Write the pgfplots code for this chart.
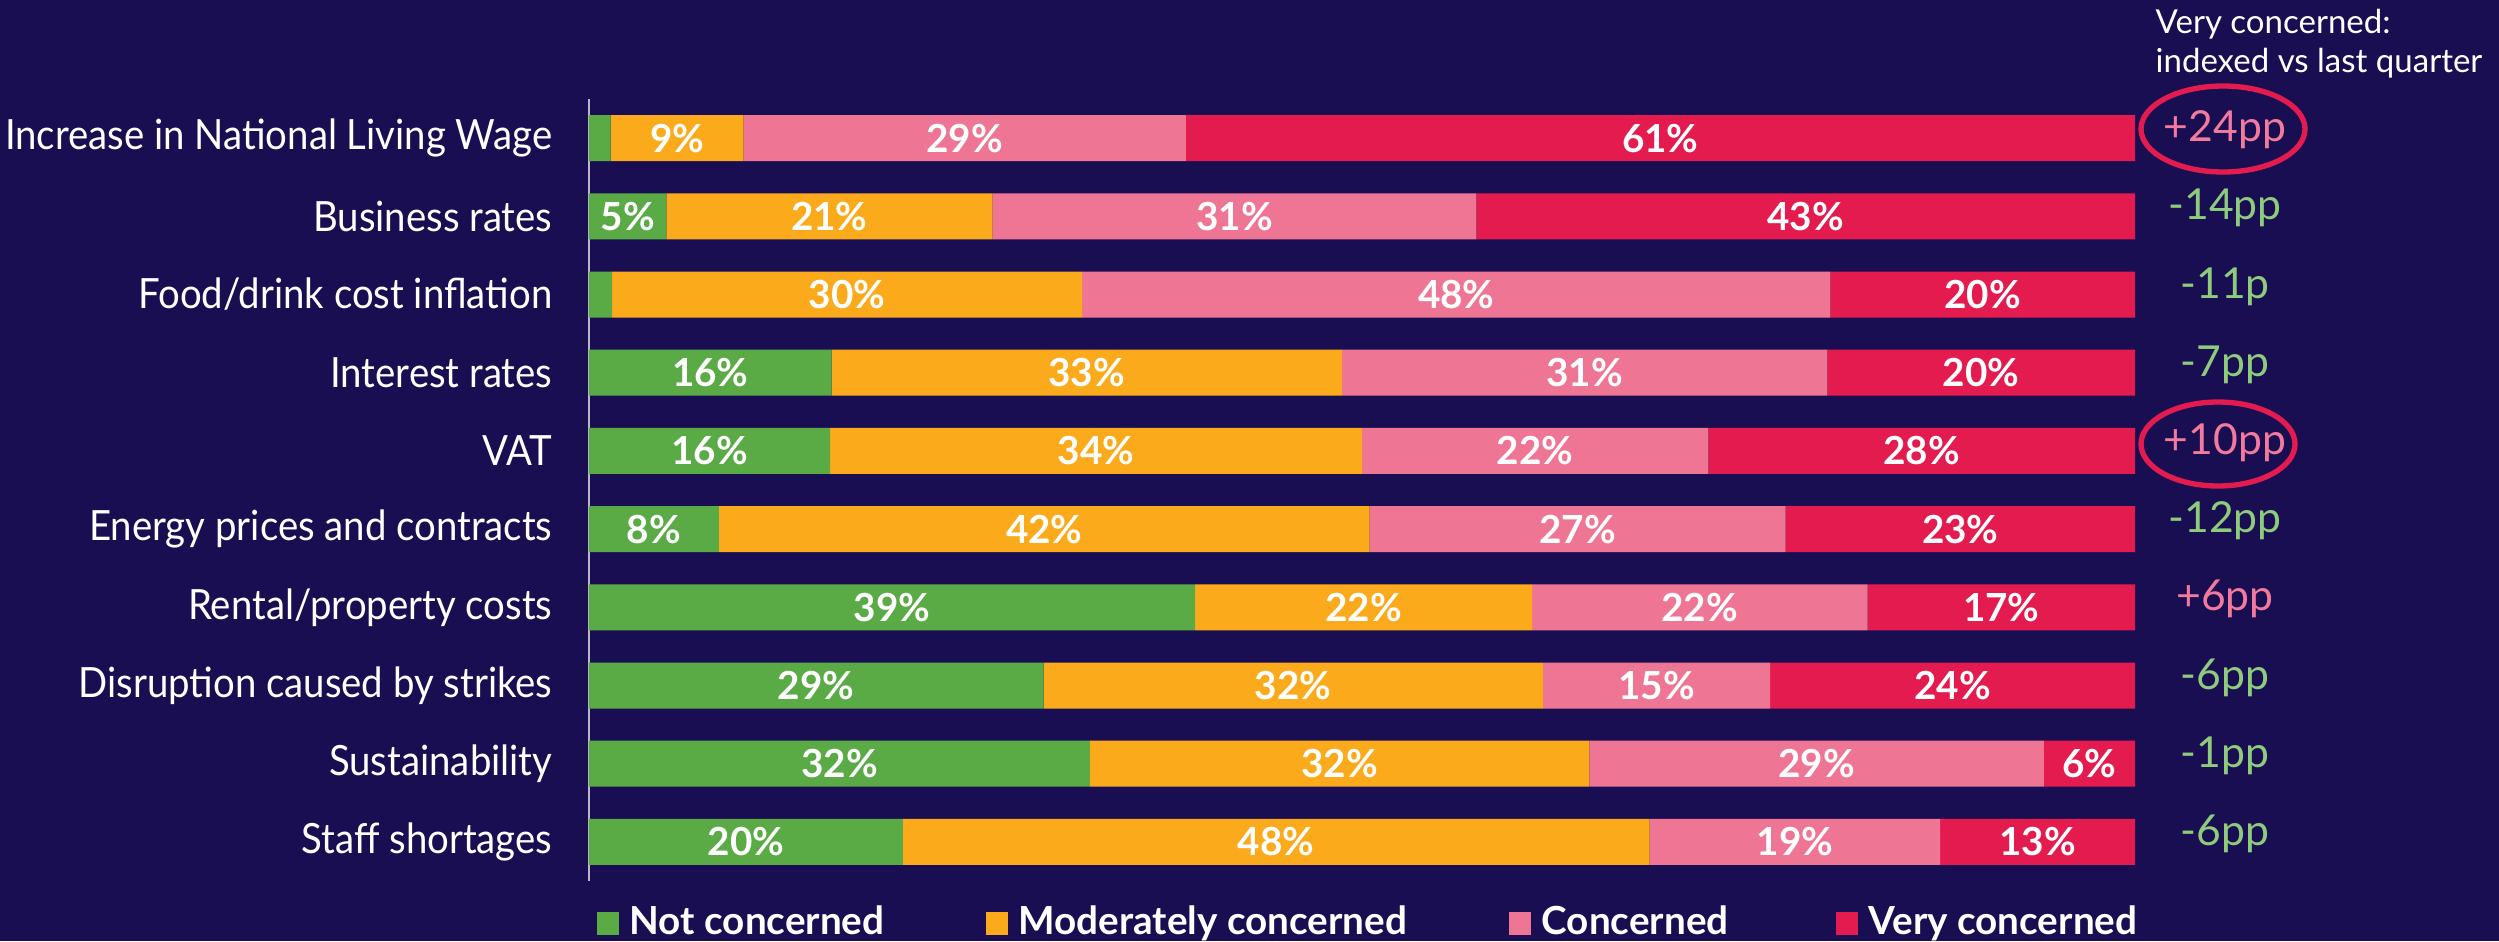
\documentclass[border=0pt]{standalone}
\usepackage{pgfplots}
\pgfplotsset{compat=1.18}
\usepackage{pgfplotstable}
\usepackage{fontspec}
\setmainfont{Lato}
\newfontfamily\labfont[FakeStretch=0.92]{Lato}
\definecolor{bg}{HTML}{1A0E52}
\definecolor{cgreen}{HTML}{5AAA46}
\definecolor{corange}{HTML}{FBAA1C}
\definecolor{cpink}{HTML}{EF7595}
\definecolor{cred}{HTML}{E31B4F}
\definecolor{agreen}{HTML}{8FCB7C}
\definecolor{apink}{HTML}{F27A9C}

\pgfplotstableread[col sep=comma]{
row,nc,mc,c,vc
0,1.4,8.6,28.6,61.4
1,5,21.1,31.3,42.6
2,1.5,30.4,48.4,19.7
3,15.7,33,31.4,19.9
4,15.6,34.4,22.4,27.6
5,8.4,42.1,26.9,22.6
6,39.2,21.8,21.7,17.3
7,29.4,32.3,14.7,23.6
8,32.4,32.3,29.4,5.9
9,20.3,48.3,18.8,12.6
}\datatable

\pgfplotsset{
  lbl/.style={
    visualization depends on={rawx \as \myv},
    nodes near coords={\pgfmathtruncatemacro\flag{\myv>=3}\ifnum\flag=1 \pgfmathprintnumber[fixed,precision=0]{\myv}\%\fi},
    every node near coord/.append style={anchor=center},
  },
}

\begin{document}
\begin{tikzpicture}[x=1pt,y=1pt]
\fill[bg] (0,0) rectangle (749.7,282.3);
\path[use as bounding box] (0,0) rectangle (749.7,282.3);
\begin{axis}[
  at={(176.7pt,18pt)}, anchor=south west,
  scale only axis, width=463.8pt, height=234.6pt,
  xbar stacked, bar width=13.8pt,
  xmin=0, xmax=100, ymin=-0.5, ymax=9.5, y dir=reverse,
  axis x line=none, axis y line*=left,
  y axis line style={draw=white!70!bg, line width=0.7pt},
  ytick={0,...,9},
  yticklabels={Increase in National Living Wage, Business rates, Food/drink cost inflation, Interest rates, VAT, Energy prices and contracts, Rental/property costs, Disruption caused by strikes, Sustainability, Staff shortages},
  major tick length=0pt,
  /pgf/number format/assume math mode=true,
  yticklabel style={font=\labfont\fontsize{12.5}{15}\selectfont, text=white, inner sep=0pt, xshift=-10.8pt},
  nodes near coords style={text=white, font=\bfseries\fontsize{11.6}{14}\selectfont},
  legend style={at={(axis description cs:0.0045,-0.0537)}, anchor=west, draw=none, fill=none, text=white,
    font=\bfseries\fontsize{11.6}{13}\selectfont, legend columns=4, inner sep=0pt,
    nodes={inner sep=0pt},
    /tikz/every odd column/.append style={column sep=3.3pt}},
  legend image code/.code={\fill[#1] (0pt,-3.45pt) rectangle (6.6pt,3.45pt);},
]
\addplot[fill=cgreen, draw=none, lbl] table[x=nc, y=row] {\datatable};
\addlegendentry{\makebox[106.8pt][l]{Not concerned}}
\addplot[fill=corange, draw=none, lbl] table[x=mc, y=row] {\datatable};
\addlegendentry{\makebox[147pt][l]{Moderately concerned}}
\addplot[fill=cpink, draw=none, lbl] table[x=c, y=row] {\datatable};
\addlegendentry{\makebox[88.2pt][l]{Concerned}}
\addplot[fill=cred, draw=none, lbl] table[x=vc, y=row] {\datatable};
\addlegendentry{Very concerned}
\end{axis}
% header
\node[anchor=base west, text=white, font=\fontsize{9.9}{11.7}\selectfont, inner sep=0pt] at (646.5,272.4) {Very concerned:};
\node[anchor=base west, text=white, font=\fontsize{9.9}{11.7}\selectfont, inner sep=0pt] at (646.5,260.7) {indexed vs last quarter};
% annotations
\begin{scope}[every node/.style={font=\fontsize{12.8}{14}\selectfont, inner sep=0pt}]
\node[text=apink]  at (667.5,243.30) {+24pp};
\node[text=agreen] at (667.5,219.84) {-14pp};
\node[text=agreen] at (667.5,196.38) {-11p};
\node[text=agreen] at (667.5,172.92) {-7pp};
\node[text=apink]  at (667.5,149.46) {+10pp};
\node[text=agreen] at (667.5,126.00) {-12pp};
\node[text=apink]  at (667.5,102.54) {+6pp};
\node[text=agreen] at (667.5,79.08) {-6pp};
\node[text=agreen] at (667.5,55.62) {-1pp};
\node[text=agreen] at (667.5,32.16) {-6pp};
\end{scope}
\draw[cred, line width=1.6pt] (666.9,243.6) ellipse [x radius=24.6, y radius=12.9];
\draw[cred, line width=1.6pt] (665.4,149.1) ellipse [x radius=23.1, y radius=12.6];
\end{tikzpicture}
\end{document}
